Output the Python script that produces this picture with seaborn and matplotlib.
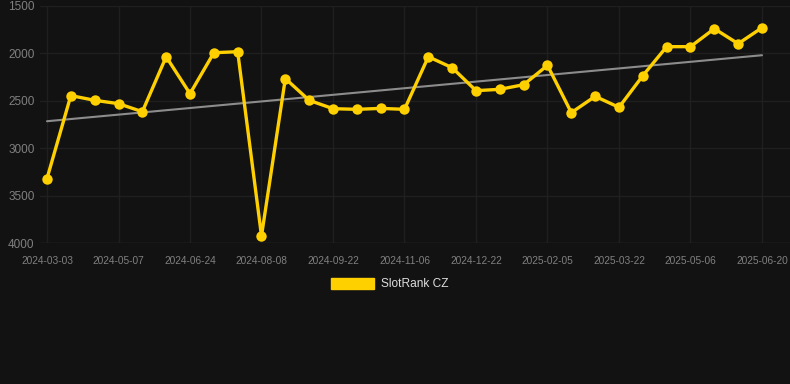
import numpy as np
import pandas as pd
import matplotlib
matplotlib.use("Agg")
import matplotlib.pyplot as plt
from matplotlib.patches import Patch
import seaborn as sns

# ---- data ----
tick_labels = ["2024-03-03", "2024-05-07", "2024-06-24", "2024-08-08", "2024-09-22",
               "2024-11-06", "2024-12-22", "2025-02-05", "2025-03-22", "2025-05-06",
               "2025-06-20"]
rank_values = [3320, 2445, 2495, 2530, 2615, 2035, 2425, 1993, 1982, 3925,
               2265, 2495, 2583, 2590, 2580, 2590, 2035, 2151, 2393, 2379,
               2330, 2126, 2625, 2453, 2569, 2235, 1929, 1929, 1739, 1898, 1729]
series_name = "SlotRank CZ"
y_ticks = [1500, 2000, 2500, 3000, 3500, 4000]

BG = "#121212"
GOLD = "#FFD000"
GRID = "#1f1f1f"
TXT = "#808080"

sns.set_theme(style="dark")
plt.rcParams["font.family"] = ["Liberation Sans", "DejaVu Sans"]

df = pd.DataFrame({"idx": np.arange(len(rank_values)), "rank": rank_values})

fig = plt.figure(figsize=(7.9, 3.84), dpi=100, facecolor=BG)
W, H = 790, 384
# axes pixel box: left 40, right 790, top 6, bottom 243
ax = fig.add_axes([40 / W, 1 - 243 / H, 750 / W, (243 - 6) / H])
ax.set_facecolor(BG)

step = 23.833
x0 = -(47 - 40) / step
x1 = 30 + (790 - 762) / step
ax.set_xlim(x0, x1)
ax.set_ylim(4000, 1500)

# trend line (least squares)
coef = np.polyfit(df["idx"], df["rank"], 1)
tx = np.array([0, len(rank_values) - 1])
sns.lineplot(x=tx, y=np.polyval(coef, tx), ax=ax, color="#8c8c8c", linewidth=1.5,
             zorder=2, legend=False)

sns.lineplot(data=df, x="idx", y="rank", ax=ax, color=GOLD, linewidth=2.4,
             marker="o", markersize=7.5, markeredgewidth=0, zorder=3,
             legend=False, clip_on=False)

ax.set_xticks(range(0, len(rank_values), 3))
ax.set_xticklabels(tick_labels)
ax.set_yticks(y_ticks)
ax.set_yticklabels([str(v) for v in y_ticks])
ax.grid(True, color=GRID, linewidth=1)
ax.axhline(4000, color="#2c2c2c", linewidth=1, zorder=1)
ax.tick_params(axis="x", colors=GRID, labelcolor=TXT, labelsize=7.3, length=4, pad=5)
ax.tick_params(axis="y", colors=GRID, labelcolor=TXT, labelsize=8.5, length=0, pad=4)
for s in ax.spines.values():
    s.set_visible(False)
ax.set_xlabel("")
ax.set_ylabel("")

leg = fig.legend(handles=[Patch(facecolor=GOLD, edgecolor=GOLD, label=series_name)],
                 loc="center", bbox_to_anchor=(390 / W, 1 - 284 / H), frameon=False,
                 fontsize=8.6, handlelength=3.6, handleheight=1.1, handletextpad=0.6,
                 labelcolor="#dddddd")

fig.savefig("out.png", dpi=100, facecolor=BG)
